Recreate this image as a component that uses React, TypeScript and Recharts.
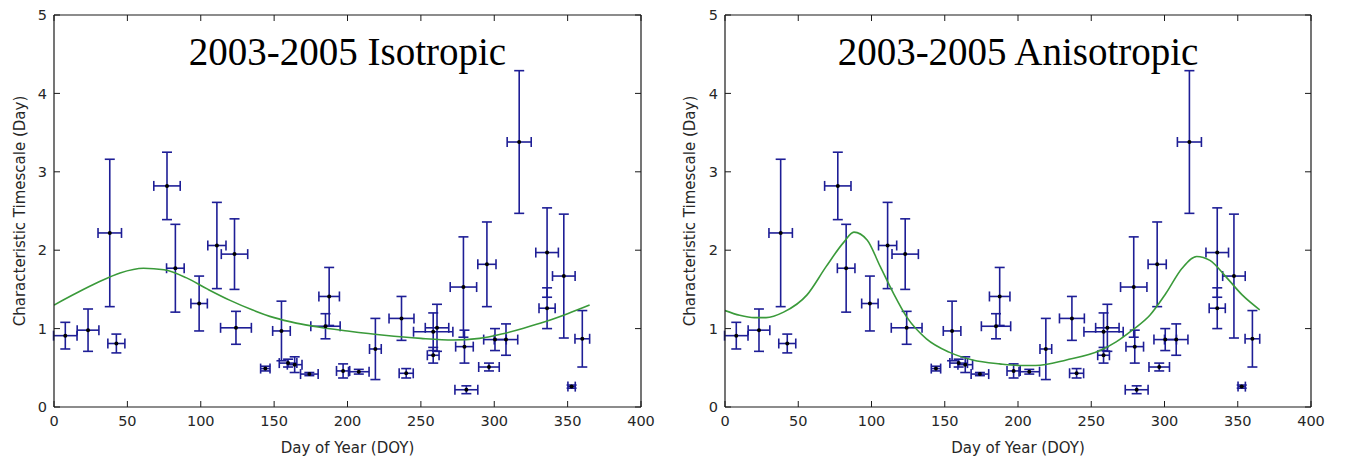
import React from 'react';
import { ComposedChart, XAxis, YAxis, Scatter, Line, ErrorBar } from 'recharts';

// ---- data ----
const pointX = [7.7, 23.2, 38, 42.5, 77, 82.7, 98.9, 111, 123, 124, 144, 155, 159.5, 164, 174, 185, 187.5, 197, 207.7, 219, 236.8, 240, 258.4, 258.4, 261, 279, 279.7, 281, 295, 296.4, 300.5, 308, 317, 336, 336, 347.4, 352.7, 360];
const pointY = [0.91, 0.98, 2.22, 0.81, 2.82, 1.77, 1.32, 2.06, 1.95, 1.01, 0.49, 0.97, 0.56, 0.54, 0.42, 1.03, 1.41, 0.46, 0.45, 0.74, 1.13, 0.43, 0.96, 0.66, 1.01, 1.53, 0.77, 0.22, 1.82, 0.51, 0.86, 0.86, 3.38, 1.97, 1.26, 1.67, 0.26, 0.87];
const pointXErr = [8, 7.4, 8, 5.8, 9, 6, 5.6, 6.2, 9, 10.5, 3.2, 6, 6, 5, 6, 10, 7, 4.5, 7, 4, 8.5, 4.8, 13.4, 4, 8, 9, 6, 7.8, 6.2, 7, 7.7, 8, 8.2, 7.7, 5.5, 7.7, 2.5, 5];
const pointYErr = [0.17, 0.27, 0.94, 0.12, 0.43, 0.56, 0.35, 0.55, 0.45, 0.21, 0.03, 0.38, 0.05, 0.1, 0.02, 0.16, 0.37, 0.09, 0.03, 0.39, 0.28, 0.06, 0.24, 0.1, 0.3, 0.64, 0.21, 0.05, 0.54, 0.05, 0.14, 0.2, 0.91, 0.57, 0.26, 0.79, 0.02, 0.36];

const isoCurveX = [0, 15, 30, 45, 61, 75, 90, 105, 120, 135, 150, 165, 180, 200, 225, 250, 272, 290, 305, 320, 335, 350, 365];
const isoCurveY = [1.30, 1.45, 1.59, 1.71, 1.77, 1.75, 1.65, 1.50, 1.36, 1.24, 1.14, 1.07, 1.02, 0.97, 0.915, 0.875, 0.855, 0.875, 0.93, 1.005, 1.09, 1.19, 1.30];

const anisoCurveX = [0, 10, 20, 28, 40, 56, 69, 81, 88, 97, 106, 115, 124, 137.5, 153, 169, 187.5, 201, 212, 233, 256, 267, 278, 290, 301, 312, 322, 331, 342, 353, 365];
const anisoCurveY = [1.23, 1.17, 1.14, 1.14, 1.21, 1.43, 1.79, 2.10, 2.23, 2.13, 1.79, 1.45, 1.15, 0.87, 0.70, 0.60, 0.55, 0.53, 0.53, 0.60, 0.72, 0.83, 0.98, 1.17, 1.45, 1.77, 1.92, 1.87, 1.66, 1.43, 1.24];

const xTicks = [0, 50, 100, 150, 200, 250, 300, 350, 400];
const yTicks = [0, 1, 2, 3, 4, 5];

const points = pointX.map((x, i) => ({ x, y: pointY[i], xe: pointXErr[i], ye: pointYErr[i] }));
const isoCurve = isoCurveX.map((x, i) => ({ x, y: isoCurveY[i] }));
const anisoCurve = anisoCurveX.map((x, i) => ({ x, y: anisoCurveY[i] }));

const SANS = 'DejaVu Sans, Verdana, sans-serif';
const SERIF = 'Liberation Serif, Times New Roman, serif';
const FRAME = '#1a1a1a';
const BAR = '#1e1e96';
const TEXT = '#262626';

const Dot = (props: any) => {
  const { cx, cy } = props;
  if (cx == null || cy == null) return null;
  return <circle cx={cx} cy={cy} r={2} fill="#000" />;
};

const EmptyTick = () => <g />;

function Panel({ title, curve, yAxisWidth }: { title: string; curve: { x: number; y: number }[]; yAxisWidth: number }) {
  const titleContent = (props: any) => {
    const vb = props.viewBox || {};
    const cx = (vb.x ?? yAxisWidth) + (vb.width ?? 587) / 2;
    return (
      <text x={cx} y={65} textAnchor="middle" fontFamily={SERIF} fontSize={39} fill="#000">
        {title}
      </text>
    );
  };
  const xLabelContent = (props: any) => {
    const vb = props.viewBox || {};
    const cx = (vb.x ?? yAxisWidth) + (vb.width ?? 587) / 2;
    return (
      <text x={cx} y={453} textAnchor="middle" fontFamily={SANS} fontSize={15} fill={TEXT}>
        Day of Year (DOY)
      </text>
    );
  };
  const yLabelContent = (props: any) => {
    const vb = props.viewBox || {};
    const cy = (vb.y ?? 15) + (vb.height ?? 392) / 2;
    return (
      <text x={24.5} y={cy} transform={`rotate(-90, 24.5, ${cy})`} textAnchor="middle" fontFamily={SANS} fontSize={15} fill={TEXT}>
        Characteristic Timescale (Day)
      </text>
    );
  };

  const tickLineStyle = { stroke: FRAME, strokeWidth: 1 };

  return (
    <ComposedChart width={670} height={462} margin={{ top: 15, right: 29, left: 0, bottom: 10 }}>
      <XAxis
        xAxisId={0}
        dataKey="x"
        type="number"
        domain={[0, 400]}
        ticks={xTicks}
        interval={0}
        allowDataOverflow
        height={45}
        tickSize={0}
        tickMargin={9}
        tickLine={false}
        axisLine={{ stroke: FRAME, strokeWidth: 1.2 }}
        tick={{ fontFamily: SANS, fontSize: 14.5, fill: TEXT }}
        label={{ content: xLabelContent }}
      />
      <XAxis
        xAxisId="top"
        dataKey="x"
        type="number"
        orientation="top"
        mirror
        domain={[0, 400]}
        ticks={xTicks}
        interval={0}
        allowDataOverflow
        tick={EmptyTick}
        tickSize={6}
        tickLine={tickLineStyle}
        axisLine={{ stroke: FRAME, strokeWidth: 1.2 }}
        label={{ content: titleContent }}
      />
      <XAxis
        xAxisId="bottomTicks"
        dataKey="x"
        type="number"
        orientation="bottom"
        mirror
        domain={[0, 400]}
        ticks={xTicks}
        interval={0}
        allowDataOverflow
        tick={EmptyTick}
        tickSize={6}
        tickLine={tickLineStyle}
        axisLine={false}
      />
      <YAxis
        yAxisId={0}
        dataKey="y"
        type="number"
        domain={[0, 5]}
        ticks={yTicks}
        interval={0}
        allowDataOverflow
        width={yAxisWidth}
        tickSize={0}
        tickMargin={7}
        tickLine={false}
        axisLine={{ stroke: FRAME, strokeWidth: 1.2 }}
        tick={{ fontFamily: SANS, fontSize: 14.5, fill: TEXT }}
        label={{ content: yLabelContent }}
      />
      <YAxis
        yAxisId="leftTicks"
        type="number"
        orientation="left"
        mirror
        domain={[0, 5]}
        ticks={yTicks}
        interval={0}
        allowDataOverflow
        tick={EmptyTick}
        tickSize={6}
        tickLine={tickLineStyle}
        axisLine={false}
      />
      <YAxis
        yAxisId="right"
        type="number"
        orientation="right"
        mirror
        domain={[0, 5]}
        ticks={yTicks}
        interval={0}
        allowDataOverflow
        tick={EmptyTick}
        tickSize={6}
        tickLine={tickLineStyle}
        axisLine={{ stroke: FRAME, strokeWidth: 1.2 }}
      />
      <Scatter data={points} dataKey="y" shape={<Dot />} isAnimationActive={false}>
        <ErrorBar dataKey="xe" direction="x" width={5} stroke={BAR} strokeWidth={1.6} isAnimationActive={false} />
        <ErrorBar dataKey="ye" direction="y" width={5} stroke={BAR} strokeWidth={1.6} isAnimationActive={false} />
      </Scatter>
      <Line
        data={curve}
        dataKey="y"
        type="monotone"
        stroke="#3a9a3a"
        strokeWidth={1.6}
        dot={false}
        activeDot={false}
        isAnimationActive={false}
      />
    </ComposedChart>
  );
}

export default function App() {
  return (
    <div style={{ position: 'absolute', left: 0, top: 0, width: 1351, height: 462, background: '#fff', overflow: 'hidden' }}>
      <div style={{ position: 'absolute', left: 0, top: 0 }}>
        <Panel title="2003-2005 Isotropic" curve={isoCurve} yAxisWidth={54} />
      </div>
      <div style={{ position: 'absolute', left: 670, top: 0 }}>
        <Panel title="2003-2005 Anisotropic" curve={anisoCurve} yAxisWidth={55} />
      </div>
    </div>
  );
}
